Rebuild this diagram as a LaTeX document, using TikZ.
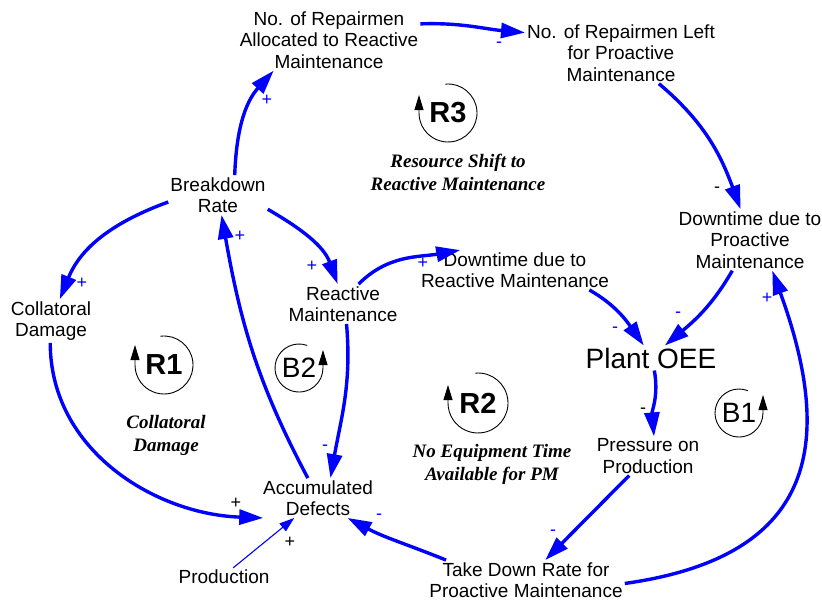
\documentclass[tikz,border=0pt]{standalone}
\usepackage{fontspec}
\setmainfont{Liberation Sans}
\newfontfamily\serifloop{Liberation Serif}
\usetikzlibrary{arrows.meta}

\begin{document}
\begin{tikzpicture}[x=1pt, y=1pt,
  var/.style={align=center, font=\fontsize{19}{21.5}\selectfont, inner sep=2pt},
  link/.style={blue, line width=3.4pt, -{Triangle[length=24pt,width=15pt]}},
  thinlink/.style={blue, line width=1.1pt, -{Triangle[length=15pt,width=10pt]}},
  sgn/.style={font=\fontsize{18}{18}\selectfont, inner sep=0pt},
  loopname/.style={font=\serifloop\bfseries\itshape\fontsize{19}{23}\selectfont, align=center},
  rtag/.style={font=\fontsize{29}{29}\selectfont\bfseries},
  btag/.style={font=\fontsize{28}{28}\selectfont},
  looparc/.style={line width=0.9pt, -{Triangle[length=15pt,width=9pt]}}]
  \useasboundingbox (0,0) rectangle (822,-603);

  % variables
  \node[var] (alloc) at (329,-40) {No. of Repairmen\\Allocated to Reactive\\Maintenance};
  \node[var] (spare) at (621,-53) {No. of Repairmen Left\\for Proactive\\Maintenance};
  \node[var] (brk) at (218,-195) {Breakdown\\Rate};
  \node[var] (col) at (51,-321) {Collatoral\\Damage};
  \node[var] (rea) at (343,-304) {Reactive\\Maintenance};
  \node[var] (dtrea) at (515,-270) {Downtime due to\\Reactive Maintenance};
  \node[var] (dtpro) at (750,-240) {Downtime due to\\Proactive\\Maintenance};
  \node[font=\fontsize{28}{28}\selectfont, inner sep=2pt] (oee) at (651,-358) {Plant OEE};
  \node[var] (pres) at (648,-456) {Pressure on\\Production};
  \node[var] (acc) at (318,-498) {Accumulated\\Defects};
  \node[var] (prod) at (224,-577) {Production};
  \node[var] (take) at (526,-580) {Take Down Rate for\\Proactive Maintenance};

  % loop markers
  \node[rtag] (r1) at (164,-365) {R1};
  \draw[looparc] (r1.center) ++(97:29) arc[start angle=97, end angle=-180, radius=29] -- ++(0,20);
  \node[rtag] (r2) at (478,-403) {R2};
  \draw[looparc] (r2.center) ++(95:30) arc[start angle=95, end angle=-180, radius=30] -- ++(0,18);
  \node[rtag] (r3) at (448,-113) {R3};
  \draw[looparc] (r3.center) ++(95:29) arc[start angle=95, end angle=-180, radius=29] -- ++(0,18);
  \node[btag] (b2) at (299,-368) {B2};
  \draw[looparc] (b2.center) ++(70:24) arc[start angle=70, end angle=360, radius=24] -- ++(0,18);
  \node[btag] (b1) at (739,-413) {B1};
  \draw[looparc] (b1.center) ++(68:24) arc[start angle=68, end angle=360, radius=24] -- ++(0,18);

  \node[loopname] (n3) at (458,-172) {Resource Shift to\\Reactive Maintenance};
  \node[loopname] (n1) at (166,-435) {Collatoral\\Damage};
  \node[loopname] (n2) at (492,-464) {No Equipment Time\\Available for PM};

  % links
  \draw[link] (brk.50) to[out=88, in=228] (alloc.209);
  \draw[link] (alloc.10) to[out=2, in=175] (spare.168);
  \draw[link] (spare.-39) to[out=-40, in=110] (dtpro.107);
  \draw[link] (dtpro.240) to[out=-120, in=40] (oee.42);
  \draw[link] (dtrea.-15) to[out=-30, in=125] (oee.120);
  \draw[link] (rea.52) to[out=45, in=190] (dtrea.160);
  \draw[link] (brk.-16) to[out=-30, in=110] (rea.105);
  \draw[link] (brk.188) to[out=200, in=68] (col.68);
  \draw[link] (col.-92) to[out=-90, in=178] (acc.200);
  \draw[link] (acc.117) to[out=118, in=-80] (brk.-80);
  \draw[link] (rea.-80) to[out=-85, in=80] (acc.58);
  \draw[thinlink] (prod.45) -- (acc.220);
  \draw[link] (take.166) to[out=158, in=-28] (acc.-34);
  \draw[link] (take.-2) to[out=8, in=-70, looseness=1.4] (dtpro.-54);
  \draw[link] (oee.-75) to[out=-80, in=95] (pres.73);
  \draw[link] (pres.226) -- (take.46);

  % polarities
  \node[sgn, blue] (s1) at (267,-100) {+};
  \node[sgn, blue] (s2) at (499,-45) {-};
  \node[sgn] (s3) at (717,-190) {-};
  \node[sgn, blue] (s4) at (678,-315) {-};
  \node[sgn, blue] (s5) at (615,-330) {-};
  \node[sgn, blue] (s6) at (423,-263) {+};
  \node[sgn, blue] (s7) at (312,-266) {+};
  \node[sgn, blue] (s8) at (82,-283) {+};
  \node[sgn] (s9) at (236,-503) {+};
  \node[sgn, blue] (s10) at (240,-236) {+};
  \node[sgn, blue] (s11) at (325,-448) {-};
  \node[sgn] (s12) at (290,-542) {+};
  \node[sgn, blue] (s13) at (379,-517) {-};
  \node[sgn, blue] (s14) at (767,-298) {+};
  \node[sgn] (s15) at (643,-411) {-};
  \node[sgn, blue] (s16) at (553,-533) {-};
\end{tikzpicture}
\end{document}
